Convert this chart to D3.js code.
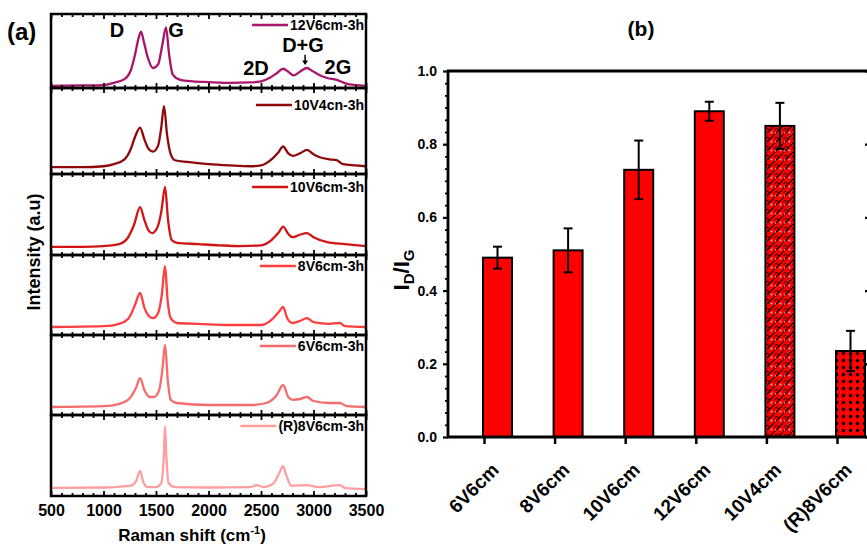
<!DOCTYPE html>
<html><head><meta charset="utf-8">
<script src="https://cdn.jsdelivr.net/npm/d3@7"></script>
<style>
body{margin:0;background:#fff}
text{font-family:"Liberation Sans",Arial,sans-serif;font-weight:bold;fill:#000}
</style>
</head><body>
<svg id="chart" width="867" height="546"></svg>
<script>
// ---------- data: Raman spectra (shift cm^-1, intensity a.u.) ----------
const sampleNames = ["12V6cm-3h","10V4cn-3h","10V6cm-3h","8V6cm-3h","6V6cm-3h","(R)8V6cm-3h"];
const sampleColors = ["#A8156A","#8E0A0A","#D11515","#FF3F3F","#F66B6B","#FF9E9E"];

const spec12V6 = [[500,0.03],[800,0.035],[1000,0.04],[1100,0.07],[1200,0.12],[1260,0.24],[1300,0.45],[1330,0.65],[1357,0.76],[1385,0.62],[1420,0.42],[1470,0.27],[1520,0.32],[1560,0.58],[1595,0.82],[1625,0.45],[1660,0.18],[1730,0.11],[1850,0.09],[2000,0.08],[2200,0.07],[2400,0.075],[2500,0.09],[2580,0.135],[2650,0.2],[2710,0.26],[2760,0.22],[2810,0.17],[2870,0.22],[2938,0.27],[2990,0.23],[3050,0.18],[3130,0.135],[3220,0.11],[3320,0.055],[3400,0.04],[3500,0.03]];
const spec10V4 = [[500,0.08],[800,0.08],[1000,0.09],[1100,0.115],[1200,0.17],[1260,0.29],[1300,0.43],[1348,0.54],[1390,0.40],[1430,0.29],[1471,0.26],[1520,0.33],[1550,0.54],[1576,0.79],[1605,0.46],[1640,0.23],[1680,0.16],[1800,0.14],[2000,0.115],[2200,0.10],[2400,0.09],[2500,0.10],[2600,0.17],[2670,0.26],[2710,0.32],[2760,0.24],[2805,0.21],[2870,0.24],[2938,0.28],[3000,0.23],[3060,0.195],[3150,0.17],[3220,0.16],[3280,0.115],[3400,0.10],[3500,0.09]];
const spec10V6 = [[500,0.10],[800,0.10],[1000,0.11],[1150,0.135],[1230,0.21],[1290,0.37],[1348,0.59],[1390,0.43],[1430,0.30],[1462,0.27],[1510,0.33],[1550,0.53],[1586,0.84],[1615,0.43],[1650,0.185],[1700,0.15],[1900,0.135],[2100,0.12],[2300,0.11],[2500,0.12],[2600,0.185],[2670,0.28],[2710,0.35],[2760,0.26],[2800,0.22],[2870,0.25],[2938,0.27],[3000,0.22],[3130,0.16],[3300,0.135],[3500,0.11]];
const spec8V6 = [[500,0.10],[1000,0.11],[1150,0.14],[1240,0.21],[1300,0.375],[1348,0.525],[1390,0.34],[1430,0.24],[1471,0.21],[1520,0.275],[1555,0.50],[1586,0.86],[1610,0.44],[1640,0.21],[1700,0.15],[1900,0.14],[2200,0.125],[2500,0.125],[2600,0.19],[2670,0.29],[2710,0.35],[2750,0.21],[2800,0.15],[2870,0.175],[2938,0.21],[3000,0.16],[3150,0.14],[3250,0.15],[3300,0.11],[3500,0.10]];
const spec6V6 = [[500,0.10],[1000,0.11],[1150,0.14],[1250,0.21],[1310,0.34],[1348,0.46],[1390,0.31],[1440,0.225],[1480,0.225],[1530,0.31],[1560,0.56],[1586,0.875],[1612,0.44],[1640,0.19],[1700,0.15],[2000,0.125],[2400,0.125],[2550,0.15],[2650,0.25],[2710,0.375],[2760,0.225],[2800,0.19],[2870,0.20],[2938,0.225],[3000,0.175],[3150,0.15],[3250,0.15],[3320,0.11],[3500,0.10]];
const specR8V6 = [[500,0.10],[1000,0.105],[1250,0.125],[1310,0.185],[1348,0.31],[1380,0.17],[1420,0.11],[1500,0.11],[1550,0.16],[1575,0.51],[1586,0.86],[1598,0.51],[1620,0.16],[1680,0.11],[2000,0.105],[2400,0.11],[2460,0.135],[2520,0.11],[2620,0.16],[2680,0.30],[2710,0.37],[2740,0.26],[2790,0.125],[2938,0.135],[3050,0.11],[3250,0.135],[3300,0.10],[3500,0.085]];
const spectra = [spec12V6, spec10V4, spec10V6, spec8V6, spec6V6, specR8V6];

const ramanTicks = [500,1000,1500,2000,2500,3000,3500];
const ramanMinor = d3.range(500,3501,100).filter(v => v % 500 !== 0);
const peakLabels = [{t:"D",x:1129,y:0.69},{t:"G",x:1690,y:0.69},{t:"D+G",x:2900,y:0.486},{t:"2D",x:2452,y:0.176},{t:"2G",x:3233,y:0.19}];

// ---------- data: I_D/I_G bars ----------
const barCategories = ["6V6cm","8V6cm","10V6cm","12V6cm","10V4cm","(R)8V6cm"];
const barValues = [0.49,0.51,0.73,0.89,0.85,0.235];
const barErrors = [0.03,0.06,0.08,0.026,0.063,0.055];
const barFills = ["solid","solid","solid","solid","hatch","dots"];
const ratioTicks = [0,0.2,0.4,0.6,0.8,1.0];

const svg = d3.select("#chart");
const defs = svg.append("defs");
// patterns
const ph = defs.append("pattern").attr("id","hatch").attr("patternUnits","userSpaceOnUse").attr("width",9).attr("height",9);
ph.append("rect").attr("width",9).attr("height",9).attr("fill","#FF0000");
ph.append("path").attr("d","M-1,10 L10,-1").attr("stroke","#000").attr("stroke-width",1.2);
ph.append("path").attr("d","M0.5,3.5 Q2.5,1 5,4").attr("stroke","#000").attr("stroke-width",0.9).attr("fill","none");
ph.append("circle").attr("cx",6.5).attr("cy",6.5).attr("r",1).attr("fill","#bbb");
ph.append("circle").attr("cx",1.5).attr("cy",7).attr("r",0.7).attr("fill","#ccc");
const pd = defs.append("pattern").attr("id","dots").attr("patternUnits","userSpaceOnUse").attr("width",7).attr("height",7);
pd.append("rect").attr("width",7).attr("height",7).attr("fill","#FF0000");
pd.append("circle").attr("cx",3.5).attr("cy",3.5).attr("r",1.7).attr("fill","#000");
pd.append("circle").attr("cx",0).attr("cy",0).attr("r",0.6).attr("fill","#aaa");

// ---------- left: stacked Raman panels ----------
const panelEdges = [14, 88, 174, 255, 335, 415, 496];
const legendY = [25, 105, 187, 266, 346, 426];
const xR = d3.scaleLinear().domain([500,3500]).range([51,366]);

sampleNames.forEach((name,i) => {
  const top = panelEdges[i], bot = panelEdges[i+1];
  const y = d3.scaleLinear().domain([0,1]).range([bot, top]);
  const g = svg.append("g");
  const line = d3.line().x(d => xR(d[0])).y(d => y(d[1])).curve(d3.curveMonotoneX);
  g.append("path").datum(spectra[i]).attr("d", line).attr("fill","none")
    .attr("stroke", sampleColors[i]).attr("stroke-width",2.3).attr("stroke-linejoin","round");
  const addTicks = (axisFn, ypos, vals, size) => {
    const a = g.append("g").attr("transform",`translate(0,${ypos})`)
      .call(axisFn(xR).tickValues(vals).tickSize(size).tickFormat(""));
    a.select(".domain").remove();
    a.selectAll("line").attr("stroke","#000").attr("stroke-width",1.8);
  };
  addTicks(d3.axisBottom, top, ramanTicks, 5);
  addTicks(d3.axisBottom, top, ramanMinor, 3);
  addTicks(d3.axisTop, bot, ramanTicks, 5);
  addTicks(d3.axisTop, bot, ramanMinor, 3);
  g.append("rect").attr("x",xR(500)).attr("y",top).attr("width",xR(3500)-xR(500)).attr("height",bot-top)
    .attr("fill","none").attr("stroke","#000").attr("stroke-width",2.5);
  const lt = g.append("text").attr("x",364).attr("y",legendY[i]).attr("dy","0.35em")
    .attr("text-anchor","end").attr("font-size",14).text(name);
  const w = lt.node().getComputedTextLength();
  g.append("line").attr("x1",364-w-38).attr("x2",364-w-2).attr("y1",legendY[i]).attr("y2",legendY[i])
    .attr("stroke",sampleColors[i]).attr("stroke-width",2.6);
  if (i === 0) {
    peakLabels.forEach(p => {
      g.append("text").attr("x",xR(p.x)).attr("y",y(p.y)).attr("text-anchor","middle")
        .attr("font-size",20).text(p.t);
    });
    g.append("line").attr("x1",xR(2920)).attr("x2",xR(2920)).attr("y1",y(0.45)).attr("y2",y(0.35))
      .attr("stroke","#000").attr("stroke-width",1.5);
    g.append("path").attr("d",`M${xR(2920)-3},${y(0.37)} L${xR(2920)+3},${y(0.37)} L${xR(2920)},${y(0.31)} Z`).attr("fill","#000");
  }
});
const xl = svg.append("g").attr("transform",`translate(0,${panelEdges[6]})`)
  .call(d3.axisBottom(xR).tickValues(ramanTicks).tickFormat(d3.format("d")).tickSize(0).tickPadding(9));
xl.select(".domain").remove();
xl.selectAll("text").attr("font-size",16).style("font-family",'"Liberation Sans",Arial,sans-serif').style("font-weight","bold");
const xt = svg.append("text").attr("x",192).attr("y",541).attr("text-anchor","middle").attr("font-size",17);
xt.append("tspan").text("Raman shift (cm");
xt.append("tspan").attr("dy",-7).attr("font-size",11).text("-1");
xt.append("tspan").attr("dy",7).text(")");
svg.append("text").attr("transform","translate(40,252) rotate(-90)").attr("text-anchor","middle")
  .attr("font-size",18).text("Intensity (a.u)");
svg.append("text").attr("x",7).attr("y",40).attr("font-size",24).text("(a)");

// ---------- right: bar chart ----------
const yB = d3.scaleLinear().domain([0,1]).range([437,71]);
const xB = d3.scalePoint().domain(barCategories).range([484,837]);
const barW = 29;
const minor = d3.range(0,1.0001,0.2/6).filter(v => Math.abs(v*5 - Math.round(v*5)) > 1e-6);

const bars = svg.append("g");
bars.selectAll("rect").data(barCategories).join("rect")
  .attr("x", c => xB(c) - 1).attr("width", barW)
  .attr("y", (c,i) => yB(barValues[i])).attr("height", (c,i) => yB(0) - yB(barValues[i]))
  .attr("fill", (c,i) => barFills[i] === "solid" ? "#FF0000" : `url(#${barFills[i]})`)
  .attr("stroke","#000").attr("stroke-width",2);
const eb = svg.append("g").attr("stroke","#000").attr("stroke-width",2);
barCategories.forEach((c,i) => {
  const cx = xB(c) - 1 + barW/2;
  const y1 = yB(barValues[i] + barErrors[i]), y2 = yB(barValues[i] - barErrors[i]);
  eb.append("line").attr("x1",cx).attr("x2",cx).attr("y1",y1).attr("y2",y2);
  eb.append("line").attr("x1",cx-4.5).attr("x2",cx+4.5).attr("y1",y1).attr("y2",y1);
  eb.append("line").attr("x1",cx-4.5).attr("x2",cx+4.5).attr("y1",y2).attr("y2",y2);
});
const ya = svg.append("g").attr("transform","translate(448,0)")
  .call(d3.axisLeft(yB).tickValues(ratioTicks).tickFormat(d3.format(".1f")).tickSize(5).tickPadding(6));
ya.select(".domain").remove();
ya.selectAll("line").attr("stroke","#000").attr("stroke-width",2.2);
ya.selectAll("text").attr("font-size",14).style("font-family",'"Liberation Sans",Arial,sans-serif').style("font-weight","bold");
const yam = svg.append("g").attr("transform","translate(448,0)")
  .call(d3.axisLeft(yB).tickValues(minor).tickSize(3).tickFormat(""));
yam.select(".domain").remove();
yam.selectAll("line").attr("stroke","#000").attr("stroke-width",1.8);
const yr = svg.append("g").attr("transform","translate(870,0)")
  .call(d3.axisLeft(yB).tickValues(ratioTicks).tickSize(5).tickFormat(""));
yr.select(".domain").remove();
yr.selectAll("line").attr("stroke","#000").attr("stroke-width",2.2);
const xa = svg.append("g").attr("transform","translate(0,437)")
  .call(d3.axisBottom(xB).tickSize(7).tickFormat(""));
xa.select(".domain").remove();
xa.selectAll("line").attr("stroke","#000").attr("stroke-width",2.5);
svg.append("line").attr("x1",448).attr("x2",448).attr("y1",70).attr("y2",438).attr("stroke","#000").attr("stroke-width",2.8);
svg.append("line").attr("x1",447).attr("x2",870).attr("y1",71).attr("y2",71).attr("stroke","#000").attr("stroke-width",2.8);
svg.append("line").attr("x1",447).attr("x2",870).attr("y1",437).attr("y2",437).attr("stroke","#000").attr("stroke-width",2.8);
svg.append("g").selectAll("text").data(barCategories).join("text")
  .attr("transform", c => `translate(${xB(c)+16},471) rotate(-45)`)
  .attr("text-anchor","end").attr("font-size",19).text(c => c);
const yt = svg.append("text").attr("transform","translate(409,270) rotate(-90)").attr("text-anchor","middle").attr("font-size",22);
yt.append("tspan").text("I");
yt.append("tspan").attr("dy",5).attr("font-size",15).text("D");
yt.append("tspan").attr("dy",-5).text("/I");
yt.append("tspan").attr("dy",5).attr("font-size",15).text("G");
svg.append("text").attr("x",641).attr("y",36).attr("text-anchor","middle").attr("font-size",21).text("(b)");
</script>
</body></html>
